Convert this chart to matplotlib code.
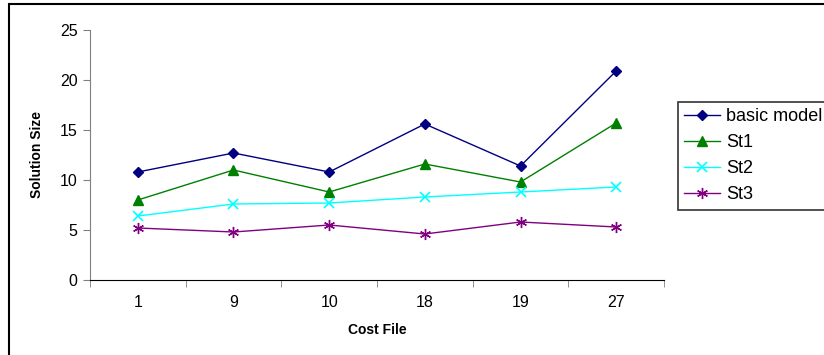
import numpy as np
import matplotlib
matplotlib.use("Agg")
import matplotlib.pyplot as plt
from matplotlib.patches import Rectangle

plt.rcParams["font.family"] = ["Liberation Sans", "DejaVu Sans"]

cost_files = ["1", "9", "10", "18", "19", "27"]
basic_model = [10.8, 12.7, 10.8, 15.6, 11.4, 20.9]
st1 = [8.0, 11.0, 8.8, 11.6, 9.8, 15.7]
st2 = [6.4, 7.6, 7.7, 8.3, 8.8, 9.3]
st3 = [5.2, 4.8, 5.5, 4.6, 5.8, 5.3]

fig = plt.figure(figsize=(8.24, 3.55), dpi=100)
ax = fig.add_axes([90 / 824, 1 - 280 / 355, 574 / 824, 250 / 355])

# frame around the whole chart area, running off the right and bottom edges
fig.patches.append(Rectangle((9 / 824, -0.1), 1.2, 1 - 4 / 355 + 0.1,
                             transform=fig.transFigure, fill=False,
                             edgecolor="black", lw=1.5))

x = np.arange(len(cost_files))
ax.plot(x, basic_model, color="#000080", marker="D", ms=5, lw=1, label="basic model")
ax.plot(x, st1, color="#008000", marker="^", ms=7, lw=1, label="St1")
ax.plot(x, st2, color="#00ffff", marker="x", ms=7, mew=1.2, lw=1, label="St2")
ax.plot(x, st3, color="#800080", marker=(6, 2, 0), ms=8, mew=1, lw=1, label="St3")

ax.set_xlim(-0.5, len(cost_files) - 0.5)
ax.set_ylim(0, 25)
ax.set_yticks(range(0, 26, 5))
ax.set_xticks(x)
ax.set_xticklabels(cost_files)
ax.set_xticks(np.arange(-0.5, len(cost_files), 1), minor=True)
ax.tick_params(axis="x", which="major", length=0, pad=11, labelsize=11.5)
ax.tick_params(axis="x", which="minor", length=5, color="#808080")
ax.tick_params(axis="y", length=5, color="#808080", labelsize=11.5, pad=4)

for side in ("top", "right"):
    ax.spines[side].set_visible(False)
ax.spines["left"].set_color("#808080")
ax.spines["bottom"].set_color("black")

ax.set_xlabel("Cost File", fontsize=10, fontweight="bold", labelpad=9)
ax.set_ylabel("Solution Size", fontsize=10, fontweight="bold", labelpad=11)

leg = ax.legend(loc="upper left", bbox_to_anchor=(678 / 824, 1 - 102 / 355),
                bbox_transform=fig.transFigure, frameon=True, fancybox=False,
                fontsize=13, handlelength=2.0, handletextpad=0.3,
                borderpad=0.35, labelspacing=0.5, borderaxespad=0)
leg.get_frame().set_edgecolor("black")
leg.get_frame().set_linewidth(1.2)

fig.savefig("out.png", dpi=100)
